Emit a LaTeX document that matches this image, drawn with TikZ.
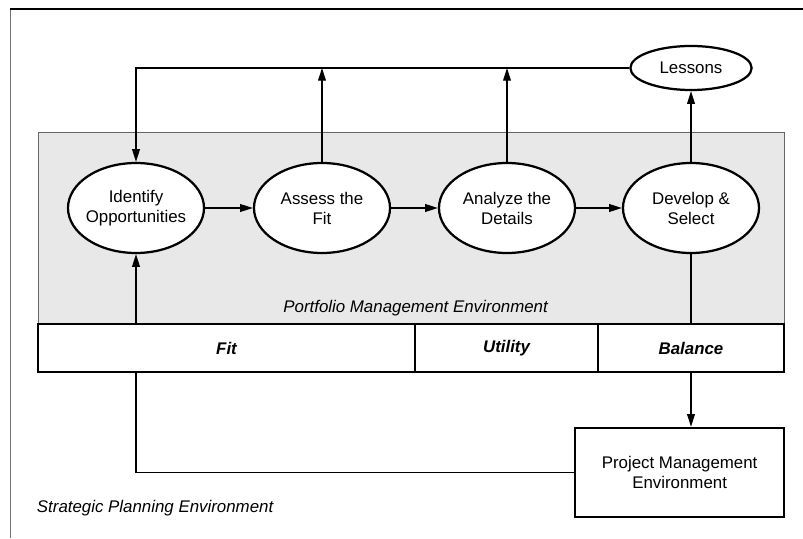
\documentclass[tikz,border=0pt]{standalone}
\usepackage{fontspec}
\setmainfont{Liberation Sans}
\usetikzlibrary{arrows.meta,shapes.geometric}

\begin{document}
\begin{tikzpicture}[
    every node/.style={font=\fontsize{12}{14.2}\selectfont, align=center},
    stage/.style={draw, ellipse, line width=1.6pt, fill=white, minimum width=3.4cm, minimum height=2.25cm, inner xsep=-3pt, inner ysep=0pt},
    cell/.style={draw, line width=0.9pt, fill=white, minimum height=1.2cm, inner sep=0pt, font=\fontsize{12}{14.2}\selectfont\bfseries\itshape},
    flow/.style={line width=0.9pt, -{Triangle[length=9pt,width=5.5pt]}}
    ]
    \useasboundingbox (0,0) rectangle (20.075,13.45);
    \draw[black!55, line width=0.7pt] (0.25,0) -- (0.25,13.225);
    \draw[line width=0.8pt] (0.25,13.225) -- (20.075,13.225);
    \draw[black!60, fill=black!9, line width=0.7pt] (0.95,5.35) rectangle (19.6,10.15);

    \node[stage] (identify) at (3.4,8.25)    {Identify\\Opportunities};
    \node[stage] (assess)   at (8.05,8.25)   {Assess the\\Fit};
    \node[stage] (analyze)  at (12.675,8.25) {Analyze the\\Details};
    \node[stage] (develop)  at (17.275,8.25) {Develop \&\\Select};
    \node[draw, ellipse, line width=1.6pt, minimum width=3.03cm, minimum height=1.1cm, inner sep=0pt] (lessons) at (17.275,11.75) {Lessons};
    \node[draw, line width=1.6pt, minimum width=5.225cm, minimum height=2.225cm] (pm) at (16.99,1.64) {Project Management\\Environment};

    \draw[flow] (identify) -- (assess);
    \draw[flow] (assess) -- (analyze);
    \draw[flow] (analyze) -- (develop);
    \draw[flow] (lessons.west) -| (identify.north);
    \draw[flow] (assess.north) -- (assess.north |- lessons.west);
    \draw[flow] (analyze.north) -- (analyze.north |- lessons.west);
    \draw[flow] (develop.north) -- (lessons.south);
    \draw[flow] (develop.south) -- (develop.south |- pm.north);
    \draw[flow] (pm.west) -| (identify.south);

    \node[cell, minimum width=9.425cm] (fit)     at (5.6625,4.75)  {Fit};
    \node[cell, minimum width=4.575cm] (utility) at (12.6625,4.75) {Utility};
    \node[cell, minimum width=4.65cm]  (balance) at (17.275,4.75)  {Balance};

    \node[font=\fontsize{12}{14.2}\selectfont\itshape] (pmlabel) at (10.39,5.75) {Portfolio Management Environment};
    \node[font=\fontsize{12}{14.2}\selectfont\itshape, anchor=west] (splabel) at (0.8,0.75) {Strategic Planning Environment};
\end{tikzpicture}
\end{document}
